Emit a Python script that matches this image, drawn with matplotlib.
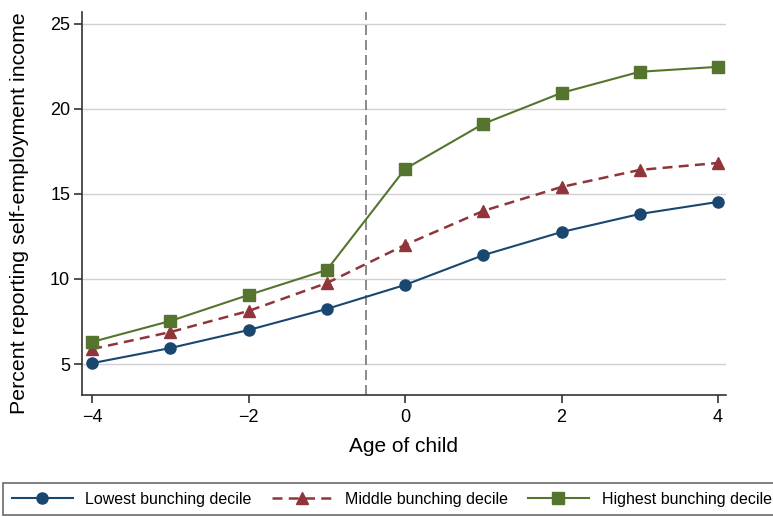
import matplotlib.pyplot as plt

plt.rcParams['font.family'] = ['Liberation Sans', 'DejaVu Sans']

# data
ages = [-4, -3, -2, -1, 0, 1, 2, 3, 4]
lowest = [5.05, 5.94, 7.0, 8.24, 9.65, 11.4, 12.76, 13.82, 14.53]
middle = [5.88, 6.88, 8.12, 9.76, 12.0, 14.0, 15.41, 16.41, 16.82]
highest = [6.3, 7.53, 9.06, 10.53, 16.47, 19.12, 20.94, 22.18, 22.47]
series_names = ['Lowest bunching decile', 'Middle bunching decile', 'Highest bunching decile']

navy = '#1a476f'
maroon = '#90353b'
green = '#55752f'

fig = plt.figure(figsize=(7.73, 5.17), dpi=100)
ax = fig.add_axes([0.106, 0.236, 0.833, 0.741])

ax.plot(ages, lowest, color=navy, lw=1.5, marker='o', ms=8, label=series_names[0])
ax.plot(ages, middle, color=maroon, lw=1.8, ls=(0, (4, 2.5)), marker='^', ms=8, label=series_names[1])
ax.plot(ages, highest, color=green, lw=1.5, marker='s', ms=8, label=series_names[2])

ax.axvline(-0.5, color='#777777', lw=1.2, ls=(0, (6, 3)), zorder=1)

ax.set_xlim(-4.13, 4.1)
ax.set_ylim(3.18, 25.7)
ax.set_xticks([-4, -2, 0, 2, 4])
ax.set_xticklabels(['\u22124', '\u22122', '0', '2', '4'])
ax.set_yticks([5, 10, 15, 20, 25])
ax.yaxis.grid(True, color='#d0d0d0', lw=1)
ax.set_axisbelow(True)
ax.tick_params(labelsize=13, length=6, width=1.2, color='#333333', direction='out')
ax.tick_params(axis='x', pad=4)
ax.tick_params(axis='y', pad=2.5)
for s in ['top', 'right']:
    ax.spines[s].set_visible(False)
for s in ['left', 'bottom']:
    ax.spines[s].set_color('#333333')
    ax.spines[s].set_linewidth(1.2)

ax.set_xlabel('Age of child', fontsize=15, labelpad=8)
ax.set_ylabel('Percent reporting self-employment income', fontsize=15.4)
ax.yaxis.set_label_coords(-0.082, 0.475)

leg = fig.legend(loc='upper left', bbox_to_anchor=(0.004, 0.066), ncol=3, fontsize=11.5,
                 frameon=True, fancybox=False, edgecolor='#444444', borderpad=0.55,
                 handlelength=3.8, handletextpad=0.8, columnspacing=1.25, borderaxespad=0)
leg.get_frame().set_linewidth(1.2)

fig.savefig('out.png', dpi=100)
